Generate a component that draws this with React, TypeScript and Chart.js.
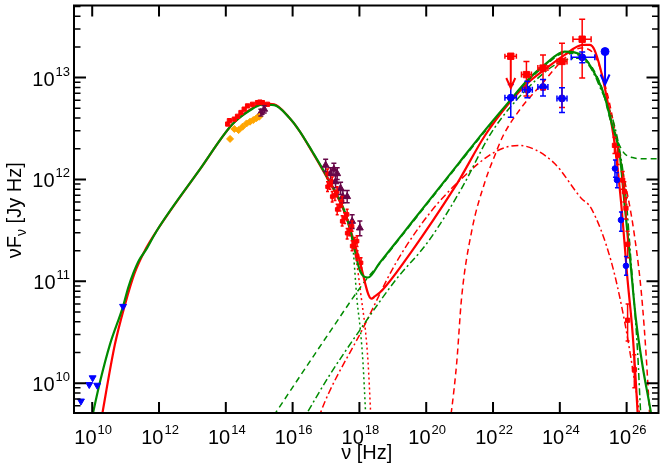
import React, { useEffect, useRef } from "react";
import { Chart, registerables } from "chart.js";

Chart.register(...registerables);

const FONT = '"Liberation Sans", Arial, Helvetica, sans-serif';

// axis ranges: frequency in Hz, nuFnu in Jy Hz
const nuMin = 2.85e9;
const nuMax = 9.0e26;
const fluxMin = 5.1e9;
const fluxMax = 5.1e13;

const nuTickPowers = [10, 12, 14, 16, 18, 20, 22, 24, 26];
const fluxTickPowers = [10, 11, 12, 13];
const fluxMinorDecades = [9, 10, 11, 12, 13];
const fluxMinorSteps = [2, 3, 4, 5, 6, 7, 8, 9];

// model curves [nu, nuFnu]
const redTotal = [
  [1.77e10, 3.98e9], [4.75e10, 2.38e10], [9.44e10, 5.81e10], [1.87e11, 1.21e11],
  [3.72e11, 1.99e11], [8.49e11, 3.12e11], [1.63e13, 1.24e12], [1.57e14, 3.48e12],
  [5.04e14, 4.78e12], [1.23e15, 5.55e12], [2.8e15, 5.45e12], [7.83e15, 4.06e12],
  [1.56e16, 3.04e12], [3.88e16, 1.86e12], [9.75e16, 1.1e12], [3.85e17, 4.5e11],
  [9.55e17, 1.71e11], [2.29e18, 6.75e10], [2.87e18, 7.1e10], [4.74e18, 8.13e10],
  [3.72e19, 1.98e11], [7.33e20, 8.49e11], [1.03e21, 1.02e12], [5.74e21, 2.7e12],
  [2.84e22, 5.47e12], [1.12e23, 8.89e12], [3.53e23, 1.2e13], [1.4e24, 1.67e13],
  [4.9e24, 2.09e13], [7.76e24, 2.09e13], [1.09e25, 1.87e13], [2.17e25, 8.26e12],
  [4.32e25, 2.32e12], [6.79e25, 6.07e11], [1.07e26, 1.02e11], [1.51e26, 3.08e10],
  [2.13e26, 5.16e9], [2.29e26, 3.2e9],
];

const redSsc = [
  [5.62e16, 4.17e9], [6.92e16, 5.16e9], [1.22e17, 8.07e9], [1.2e18, 3.32e10],
  [1.19e19, 1.48e11], [1.17e20, 4.51e11], [1.15e21, 1.02e12], [1.14e22, 1.86e12],
  [5.65e22, 2.16e12], [6.2e23, 1.49e12], [4.36e24, 6.55e11], [8.65e24, 5.22e11],
  [3.41e25, 1.59e11], [8.57e25, 4.15e10], [1.7e26, 1.09e10], [2.4e26, 5.16e9],
  [2.69e26, 3.98e9],
];

const redEc = [
  [5.01e20, 3.98e9], [5.79e20, 5.56e9], [8.17e20, 1.58e10], [1.15e21, 7.0e10],
  [2.29e21, 3.1e11], [5.74e21, 9.5e11], [1.14e22, 1.73e12], [2.02e22, 2.7e12],
  [7.08e22, 5.08e12], [2.8e23, 8.55e12], [1.4e24, 1.55e13], [4.37e24, 1.95e13],
  [1.1e25, 1.66e13], [2.74e25, 6.61e12], [4.79e25, 2.69e12], [6.76e25, 1.49e12],
  [1.7e26, 2.88e11], [3.01e26, 5.6e10], [4.78e26, 5.56e9], [5.01e26, 3.98e9],
];

const redSyn = [
  [3.85e17, 4.51e11], [7.28e17, 1.99e11], [1.2e18, 6.03e10], [1.51e18, 3.31e10],
  [1.82e18, 1.58e10], [2.14e18, 5.56e9], [2.24e18, 3.98e9],
];

const greenTotal = [
  [8.97e9, 3.98e9], [1.7e10, 1.02e10], [3.37e10, 2.38e10], [8.39e10, 5.68e10],
  [1.2e11, 8.7e10], [1.7e11, 1.2e11], [2.5e11, 1.6e11], [4.19e11, 2.07e11],
  [8.49e11, 3.12e11], [1.63e13, 1.24e12],
  [1.57e14, 3.48e12], [5.04e14, 4.72e12], [1.23e15, 5.42e12], [2.8e15, 5.36e12],
  [7.83e15, 4.06e12], [1.56e16, 3.04e12], [3.88e16, 1.88e12], [9.75e16, 1.12e12],
  [3.85e17, 4.6e11], [6.05e17, 2.67e11], [1.04e18, 1.27e11], [1.82e18, 1.09e11],
  [3.98e18, 1.51e11], [2.0e19, 2.94e11], [1.0e20, 5.73e11], [1.0e21, 1.48e12],
  [5.1e21, 2.9e12], [2.84e22, 5.68e12], [1.12e23, 9.55e12], [3.53e23, 1.34e13],
  [1.4e24, 1.8e13], [4.37e24, 1.67e13], [1.37e25, 9.57e12], [2.17e25, 6.59e12],
  [3.51e25, 3.63e12], [6.24e25, 1.73e12], [8.71e25, 5.64e11], [1.23e26, 1.85e11],
  [1.91e26, 4.15e10], [3.02e26, 1.46e10], [5.32e26, 5.16e9], [6.31e26, 3.55e9],
];

const greenSsc = [
  [1.72e16, 3.98e9], [2.75e16, 5.16e9], [1.22e17, 1.17e10], [1.2e18, 3.57e10],
  [1.19e19, 1.02e11], [1.17e20, 2.48e11], [1.15e21, 8.18e11], [9.04e21, 2.9e12],
  [1.12e23, 7.94e12], [8.79e23, 1.39e13], [3.47e24, 1.55e13], [1.37e25, 9.0e12],
  [8.57e25, 9.5e11], [1.35e26, 1.59e11], [2.14e26, 1.97e10], [2.63e26, 5.16e9],
  [2.8e26, 3.98e9],
];

const greenEc = [
  [1.85e15, 3.98e9], [1.22e17, 3.09e10], [1.52e18, 1.02e11], [3.98e18, 1.48e11],
  [2.0e19, 2.88e11], [1.0e20, 5.6e11], [1.0e21, 1.45e12], [5.1e21, 2.82e12],
  [2.84e22, 5.6e12], [1.12e23, 9.3e12], [3.53e23, 1.3e13], [1.4e24, 1.74e13],
  [4.37e24, 1.62e13], [1.73e25, 8.26e12], [3.41e25, 3.63e12], [5.6e25, 2.3e12],
  [8.6e25, 1.8e12], [1.5e26, 1.64e12], [3.0e26, 1.6e12], [9.5e26, 1.6e12],
];

const greenSyn = [
  [3.85e17, 4.6e11], [6.05e17, 2.6e11], [8.51e17, 6.46e10], [1.07e18, 3.31e10],
  [1.28e18, 1.58e10], [1.51e18, 5.56e9], [1.58e18, 3.98e9],
];

// observations [nu, nuFnu]
const radioPoints = [
  [4.6e9, 6.68e9], [8.15e9, 9.7e9], [1.03e10, 1.13e10], [1.41e10, 9.55e9], [8.39e10, 5.68e10],
];

const opticalRed = [
  [1.14e14, 3.5e12], [1.28e14, 3.78e12], [1.8e14, 3.91e12], [2.24e14, 4.17e12],
  [2.84e14, 4.54e12], [3.55e14, 4.9e12], [4.48e14, 5.27e12], [6.31e14, 5.47e12],
  [8.89e14, 5.68e12], [1.05e15, 5.75e12], [1.25e15, 5.68e12], [1.77e15, 5.47e12],
];

const opticalOrange = [
  [1.34e14, 2.5e12], [1.8e14, 3.13e12], [2.42e14, 3.05e12], [3.18e14, 3.3e12],
  [4.19e14, 3.55e12], [5.3e14, 3.69e12], [6.64e14, 3.83e12], [8.32e14, 4.0e12],
  [1.0e15, 4.13e12],
];

// [nu, nuFnu, low, high]
const purplePoints = [
  [1.12e15, 4.54e12, 4.2e12, 4.9e12], [1.41e15, 4.89e12, 4.5e12, 5.3e12],
  [9.75e16, 1.38e12, 1.2e12, 1.58e12], [1.37e17, 1.14e12, 1.0e12, 1.3e12],
  [1.72e17, 1.26e12, 1.1e12, 1.44e12], [2.16e17, 1.14e12, 1.0e12, 1.3e12],
  [1.93e17, 9.5e11, 8.3e11, 1.09e12], [2.73e17, 8.18e11, 7.1e11, 9.4e11],
  [3.19e17, 6.79e11, 5.9e11, 7.8e11], [4.3e17, 6.79e11, 5.9e11, 7.8e11],
  [6.05e17, 3.88e11, 3.3e11, 4.5e11], [1.03e18, 3.34e11, 2.8e11, 3.9e11],
];

const xrayRed = [
  [1.11e17, 1.14e12, 1.02e12, 1.27e12], [1.53e17, 9.48e11, 8.5e11, 1.06e12],
  [2.16e17, 7.59e11, 6.8e11, 8.5e11], [3.04e17, 6.07e11, 5.4e11, 6.8e11],
  [4.29e17, 4.54e11, 4.0e11, 5.1e11], [6.04e17, 3.47e11, 3.1e11, 3.9e11],
  [8.51e17, 2.48e11, 2.2e11, 2.8e11],
  [1.3e17, 8.9e11, 8.0e11, 1.0e12], [1.85e17, 7.0e11, 6.2e11, 7.8e11],
  [2.6e17, 5.5e11, 4.9e11, 6.2e11], [3.6e17, 4.2e11, 3.7e11, 4.7e11],
  [5.1e17, 3.2e11, 2.8e11, 3.6e11], [7.2e17, 2.4e11, 2.1e11, 2.7e11],
  [1.11e17, 8.49e11, 7.6e11, 9.5e11], [1.53e17, 6.79e11, 6.0e11, 7.6e11],
  [2.16e17, 5.08e11, 4.5e11, 5.7e11], [3.04e17, 3.89e11, 3.5e11, 4.4e11],
  [4.29e17, 2.97e11, 2.6e11, 3.3e11], [6.04e17, 2.22e11, 2.0e11, 2.5e11],
  [8.51e17, 1.78e11, 1.6e11, 2.0e11], [1.12e18, 1.52e11, 1.35e11, 1.7e11],
];

// [nu, nuFnu, lowY, highY, lowX, highX]
const gammaRed = [
  [1.0e23, 1.07e13, 6.6e12, 1.44e13, 7.1e22, 1.41e23],
  [3.14e23, 1.24e13, 7.6e12, 1.67e13, 2.2e23, 4.4e23],
  [1.16e24, 1.44e13, 5.1e12, 2.17e13, 8.2e23, 1.64e24],
  [4.67e24, 2.38e13, 9.9e12, 3.74e13, 2.47e24, 8.65e24],
];

const gammaBlue = [
  [3.4e22, 6.35e12, 4.07e12, 8.55e12, 2.27e22, 5.0e22],
  [1.07e23, 7.6e12, 6.35e12, 9.2e12, 7.6e22, 1.5e23],
  [3.14e23, 8.07e12, 6.6e12, 9.55e12, 2.2e23, 4.4e23],
  [1.16e24, 6.25e12, 4.54e12, 7.94e12, 8.2e23, 1.64e24],
  [4.67e24, 1.58e13, 1.4e13, 1.78e13, 2.19e24, 1.12e25],
];

// upper limits [nu, nuFnu, arrowTip, lowX, highX]
const limitRed = [[3.4e22, 1.62e13, 7.9e12, 2.27e22, 5.0e22]];
const limitBlue = [[2.26e25, 1.8e13, 8.55e12, 2.26e25, 2.26e25]];

// [nu, nuFnu, low, high]
const tevRed = [
  [4.32e25, 2.16e12, 1.8e12, 2.6e12], [5.41e25, 1.73e12, 1.4e12, 2.1e12],
  [7.62e25, 9.86e11, 8.0e11, 1.2e12], [8.57e25, 7.59e11, 6.0e11, 9.5e11],
  [9.55e25, 5.22e11, 4.1e11, 6.6e11], [1.07e26, 2.31e11, 1.7e11, 3.1e11],
  [1.07e26, 4.15e10, 2.6e10, 6.0e10], [1.7e26, 1.36e10, 9.0e9, 1.9e10],
];

const tevBlue = [
  [4.47e25, 1.28e12, 1.05e12, 1.55e12], [5.13e25, 9.86e11, 8.3e11, 1.17e12],
  [6.76e25, 4.0e11, 3.1e11, 4.8e11], [9.55e25, 1.42e11, 1.15e11, 1.75e11],
];

const RED = "#ff0000";
const GREEN = "#008b00";
const BLUE = "#0000ff";
const ORANGE = "#ffa500";
const MAROON = "#670748";

const toXY = (rows: number[][]) => rows.map((r) => ({ x: r[0], y: r[1] }));

const curve = (rows: number[][], color: string, width: number, dash: number[], order: number) => ({
  data: toXY(rows),
  showLine: true,
  borderColor: color,
  borderWidth: width,
  borderDash: dash,
  pointRadius: 0,
  cubicInterpolationMode: "monotone",
  fill: false,
  order,
});

const markers = (rows: number[][], style: string, color: string, radius: number, rotation = 0) => ({
  data: toXY(rows),
  showLine: false,
  pointStyle: style,
  pointRadius: radius,
  pointRotation: rotation,
  pointBackgroundColor: color,
  pointBorderColor: color,
  pointBorderWidth: 1,
  order: 0,
});

const sedPlugin = {
  id: "sedFrame",
  afterDatasetsDraw(chart: any) {
    const { ctx, chartArea: a, scales } = chart;
    const sx = (v: number) => scales.x.getPixelForValue(v);
    const sy = (v: number) => scales.y.getPixelForValue(v);
    ctx.save();
    ctx.beginPath();
    ctx.rect(a.left, a.top, a.right - a.left, a.bottom - a.top);
    ctx.clip();

    const vBars = (rows: number[][], color: string, cap: number) => {
      ctx.strokeStyle = color;
      ctx.lineWidth = 1.5;
      rows.forEach((r) => {
        const x = sx(r[0]);
        const lo = sy(r[2]);
        const hi = sy(r[3]);
        ctx.beginPath();
        ctx.moveTo(x, lo);
        ctx.lineTo(x, hi);
        ctx.moveTo(x - cap, lo);
        ctx.lineTo(x + cap, lo);
        ctx.moveTo(x - cap, hi);
        ctx.lineTo(x + cap, hi);
        ctx.stroke();
      });
    };
    const hBars = (rows: number[][], color: string, cap: number) => {
      ctx.strokeStyle = color;
      ctx.lineWidth = 1.5;
      rows.forEach((r) => {
        const y = sy(r[1]);
        const l = sx(r[4]);
        const h = sx(r[5]);
        if (h - l < 1) return;
        ctx.beginPath();
        ctx.moveTo(l, y);
        ctx.lineTo(h, y);
        ctx.moveTo(l, y - cap);
        ctx.lineTo(l, y + cap);
        ctx.moveTo(h, y - cap);
        ctx.lineTo(h, y + cap);
        ctx.stroke();
      });
    };
    const limits = (rows: number[][], color: string) => {
      ctx.strokeStyle = color;
      ctx.lineWidth = 2;
      rows.forEach((r) => {
        const x = sx(r[0]);
        const y = sy(r[1]);
        const tip = sy(r[2]);
        ctx.beginPath();
        ctx.moveTo(x, y);
        ctx.lineTo(x, tip);
        ctx.moveTo(x - 4.5, tip - 10);
        ctx.lineTo(x, tip);
        ctx.lineTo(x + 4.5, tip - 10);
        ctx.stroke();
      });
      hBars(rows.map((r) => [r[0], r[1], 0, 0, r[3], r[4]]), color, 2.5);
    };

    vBars(purplePoints, MAROON, 2.5);
    vBars(xrayRed, RED, 1.5);
    vBars(gammaRed, RED, 3);
    hBars(gammaRed, RED, 3);
    vBars(gammaBlue, BLUE, 3);
    hBars(gammaBlue, BLUE, 3);
    vBars(tevRed, RED, 2);
    vBars(tevBlue, BLUE, 2);
    limits(limitRed, RED);
    limits(limitBlue, BLUE);
    ctx.restore();
  },
  afterDraw(chart: any) {
    const { ctx, chartArea: a, scales } = chart;
    const sx = (v: number) => scales.x.getPixelForValue(v);
    const sy = (v: number) => scales.y.getPixelForValue(v);
    ctx.save();
    ctx.strokeStyle = "#000";
    ctx.fillStyle = "#000";

    // ticks
    ctx.lineWidth = 2;
    ctx.beginPath();
    nuTickPowers.forEach((p) => {
      const x = sx(Math.pow(10, p));
      ctx.moveTo(x, a.bottom);
      ctx.lineTo(x, a.bottom - 11);
      ctx.moveTo(x, a.top);
      ctx.lineTo(x, a.top + 11);
    });
    fluxTickPowers.forEach((p) => {
      const y = sy(Math.pow(10, p));
      ctx.moveTo(a.left, y);
      ctx.lineTo(a.left + 12, y);
      ctx.moveTo(a.right, y);
      ctx.lineTo(a.right - 12, y);
    });
    ctx.stroke();
    ctx.lineWidth = 1.5;
    ctx.beginPath();
    fluxMinorDecades.forEach((d) => {
      fluxMinorSteps.forEach((k) => {
        const v = k * Math.pow(10, d);
        if (v < fluxMin || v > fluxMax) return;
        const y = sy(v);
        ctx.moveTo(a.left, y);
        ctx.lineTo(a.left + 6.5, y);
        ctx.moveTo(a.right, y);
        ctx.lineTo(a.right - 6.5, y);
      });
    });
    ctx.stroke();

    // frame
    ctx.lineWidth = 2;
    ctx.strokeRect(a.left, a.top, a.right - a.left, a.bottom - a.top);

    // tick labels
    const power = (exp: number, x: number, y: number, align: "center" | "right") => {
      ctx.textBaseline = "alphabetic";
      ctx.textAlign = "left";
      ctx.font = `20px ${FONT}`;
      const bw = ctx.measureText("10").width;
      ctx.font = `13px ${FONT}`;
      const ew = ctx.measureText(String(exp)).width;
      const total = bw + ew + 1;
      const left = align === "center" ? x - total / 2 : x - total;
      ctx.font = `20px ${FONT}`;
      ctx.fillText("10", left, y);
      ctx.font = `13px ${FONT}`;
      ctx.fillText(String(exp), left + bw + 1, y - 10);
    };
    nuTickPowers.forEach((p) => power(p, sx(Math.pow(10, p)) + 1, 443.5, "center"));
    fluxTickPowers.forEach((p) => power(p, a.left - 4, sy(Math.pow(10, p)) + 8, "right"));

    // axis titles
    ctx.font = `20px ${FONT}`;
    ctx.textAlign = "center";
    ctx.fillText("\u03bd [Hz]", (a.left + a.right) / 2 + 0.5, 459);

    ctx.save();
    ctx.translate(21, (a.top + a.bottom) / 2 + 1);
    ctx.rotate(-Math.PI / 2);
    ctx.textAlign = "left";
    const parts: [string, number, number][] = [
      ["\u03bdF", 20, 0],
      ["\u03bd", 14, 5],
      [" [Jy Hz]", 20, 0],
    ];
    let total = 0;
    parts.forEach(([t, s]) => {
      ctx.font = `${s}px ${FONT}`;
      total += ctx.measureText(t).width;
    });
    let cx = -total / 2;
    parts.forEach(([t, s, dy]) => {
      ctx.font = `${s}px ${FONT}`;
      ctx.fillText(t, cx, dy);
      cx += ctx.measureText(t).width;
    });
    ctx.restore();
    ctx.restore();
  },
};

export default function App() {
  const canvasRef = useRef<HTMLCanvasElement | null>(null);

  useEffect(() => {
    document.body.style.margin = "0";
    if (!canvasRef.current) return;

    const chart = new Chart(canvasRef.current, {
      type: "scatter",
      data: {
        datasets: [
          markers(radioPoints, "triangle", BLUE, 4, 180),
          markers(opticalOrange, "rectRot", ORANGE, 3.5),
          markers(opticalRed, "rect", RED, 3),
          markers(purplePoints, "triangle", MAROON, 4),
          markers(xrayRed, "rect", RED, 2.5),
          markers(gammaRed, "rect", RED, 4.5),
          markers(gammaBlue, "circle", BLUE, 3.5),
          markers(limitRed, "rect", RED, 4.5),
          markers(limitBlue, "circle", BLUE, 4),
          markers(tevRed, "rect", RED, 3),
          markers(tevBlue, "circle", BLUE, 2.8),
          curve(greenTotal, GREEN, 2.2, [], 1),
          curve(redTotal, RED, 2.2, [], 2),
          curve(greenEc, GREEN, 1.5, [6, 4], 3),
          curve(greenSsc, GREEN, 1.5, [7, 3, 2, 3], 4),
          curve(greenSyn, GREEN, 1.5, [2, 3], 5),
          curve(redEc, RED, 1.5, [6, 4], 6),
          curve(redSsc, RED, 1.5, [7, 3, 2, 3], 7),
          curve(redSyn, RED, 1.5, [2, 3], 8),
        ] as any,
      },
      options: {
        animation: false,
        responsive: true,
        maintainAspectRatio: false,
        events: [],
        layout: { padding: { left: 74, right: 2.5, top: 2, bottom: 57 } },
        plugins: { legend: { display: false }, tooltip: { enabled: false } },
        scales: {
          x: { type: "logarithmic", min: nuMin, max: nuMax, display: false },
          y: { type: "logarithmic", min: fluxMin, max: fluxMax, display: false },
        },
      },
      plugins: [sedPlugin],
    });

    return () => {
      chart.destroy();
    };
  }, []);

  return (
    <div style={{ position: "absolute", left: 0, top: 0, width: 664, height: 470, background: "#fff" }}>
      <canvas ref={canvasRef} />
    </div>
  );
}
